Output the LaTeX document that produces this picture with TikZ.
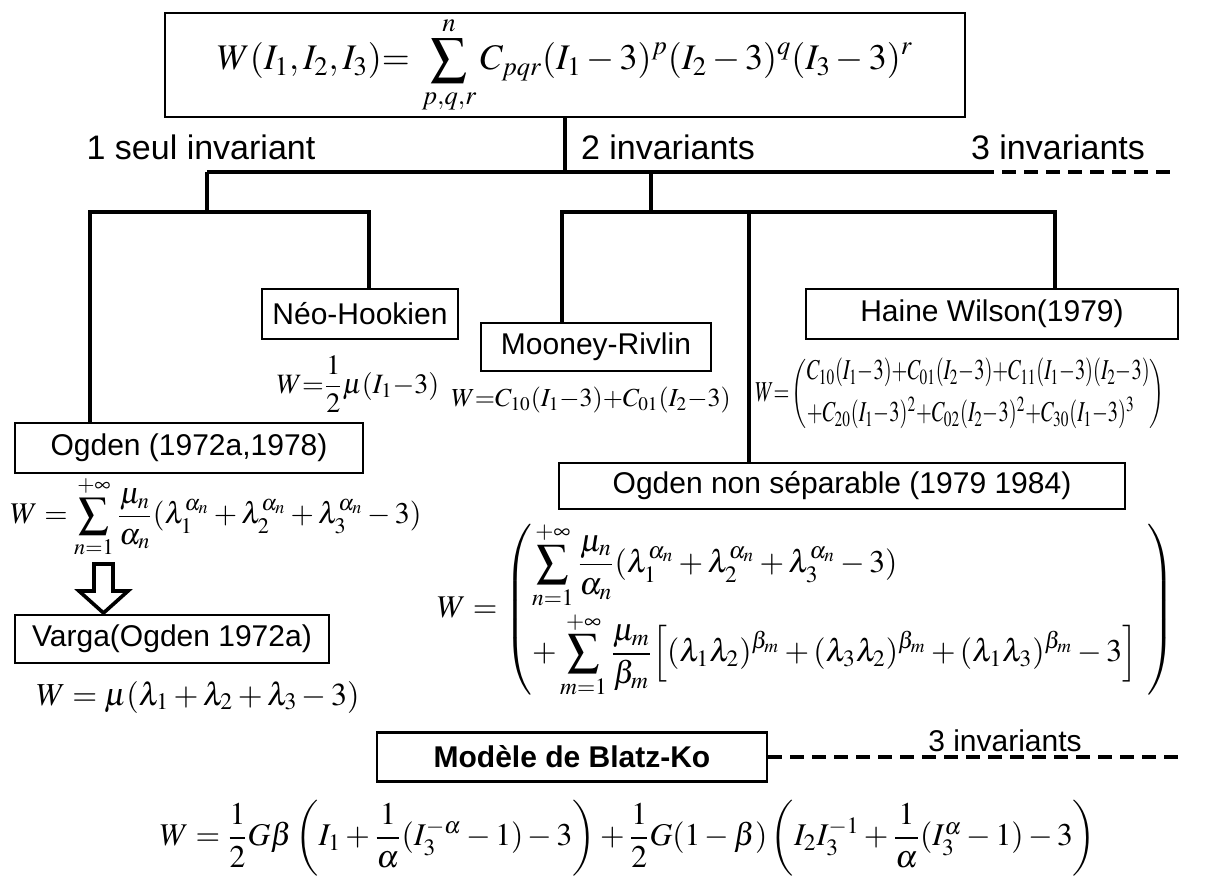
\documentclass[tikz,border=0pt]{standalone}
\usepackage{amsmath,graphicx}
\usepackage{mathptmx}
\usepackage[no-math]{fontspec}
\setmainfont{Liberation Sans}
\usetikzlibrary{positioning}

\begin{document}
\begin{tikzpicture}[
  x=0.5pt,y=-0.5pt,
  box/.style={draw,line width=1.3pt,inner sep=0pt,align=center,font=\fontsize{15}{18}\selectfont},
  lbl/.style={inner sep=0pt,font=\fontsize{17}{20}\selectfont},
  form/.style={inner sep=0pt},
  conn/.style={line width=1.6pt},
  dashconn/.style={line width=1.6pt,dash pattern=on 7pt off 4pt}
]
\useasboundingbox (0,0) rectangle (1206,878);

% general form
\node[box,minimum width=400pt,minimum height=52pt,font=\fontsize{18}{21}\selectfont] (gen) at (565,65)
  {$\displaystyle W(I_1,I_2,I_3){=}\;\sum_{p,q,r}^{n}C_{pqr}(I_1-3)^p(I_2-3)^q(I_3-3)^r$};

\node[lbl] (one) at (201,147) {1 seul invariant};
\node[lbl] (two) at (668,147) {2 invariants};
\node[lbl] (three) at (1058,147) {3 invariants};

% one invariant
\node[box,minimum width=98pt,minimum height=25pt] (neo) at (360,314) {Néo-Hookien};
\node[form,font=\fontsize{14}{16}\selectfont] (neoW) at (358,384) {$W{=}\dfrac{1}{2}\mu(I_1{-}3)$};
\node[box,minimum width=174pt,minimum height=25pt] (ogd) at (189,448) {Ogden (1972a,1978)};
\node[form,font=\fontsize{15}{18}\selectfont] (ogdW) at (216,517)
  {$\displaystyle W=\sum_{n=1}^{+\infty}\frac{\mu_n}{\alpha_n}(\lambda_1^{\alpha_n}+\lambda_2^{\alpha_n}+\lambda_3^{\alpha_n}-3)$};
\node[box,minimum width=157pt,minimum height=24pt] (varga) at (172,639) {Varga(Ogden 1972a)};
\node[form,font=\fontsize{16}{18}\selectfont] (vargaW) at (198,697) {$W=\mu(\lambda_1+\lambda_2+\lambda_3-3)$};
\draw[line width=1.8pt] (94,564) -- (113,564) -- (113,591) -- (128,591) -- (103.5,613)
  -- (79,591) -- (94,591) -- cycle;

% two invariants
\node[box,minimum width=115pt,minimum height=24pt] (moon) at (596,347) {Mooney-Rivlin};
\node[form,font=\fontsize{13}{16}\selectfont] (moonW) at (591,400) {$W{=}C_{10}(I_1{-}3){+}C_{01}(I_2{-}3)$};
\node[box,minimum width=186pt,minimum height=25pt] (haine) at (992,314) {Haine Wilson(1979)};
\node[form,font=\fontsize{12}{14}\selectfont] (haineW) at (960,394)
  {\scalebox{0.85}[1.2]{$W{=}\left(\begin{array}{@{}l@{}}C_{10}(I_1{-}3){+}C_{01}(I_2{-}3){+}C_{11}(I_1{-}3)(I_2{-}3)\\[3pt]
   {+}C_{20}(I_1{-}3)^2{+}C_{02}(I_2{-}3)^2{+}C_{30}(I_1{-}3)^3\end{array}\right)$}};
\node[box,minimum width=283pt,minimum height=23pt] (ogdns) at (842,486) {Ogden non séparable (1979 1984)};
\node[form,font=\fontsize{15.8}{18}\selectfont] (ogdnsW) at (806,610)
  {$W=\left(\begin{array}{@{}l@{\hspace{5pt}}}
   \displaystyle\sum_{n=1}^{+\infty}\frac{\mu_n}{\alpha_n}(\lambda_1^{\alpha_n}+\lambda_2^{\alpha_n}+\lambda_3^{\alpha_n}-3)\\[14pt]
   \displaystyle+\sum_{m=1}^{+\infty}\frac{\mu_m}{\beta_m}\Big[(\lambda_1\lambda_2)^{\beta_m}+(\lambda_3\lambda_2)^{\beta_m}+(\lambda_1\lambda_3)^{\beta_m}-3\Big]
   \end{array}\right)$};

% three invariants
\node[box,minimum width=195pt,minimum height=24.5pt,font=\bfseries\fontsize{15}{18}\selectfont] (blatz) at (572,757) {Modèle de Blatz-Ko};
\node[lbl,font=\fontsize{15}{18}\selectfont,anchor=south] (three2) at (1005,752) {3 invariants};
\coordinate (bend) at (1180,757);
\node[form,font=\fontsize{15.8}{18}\selectfont] (blatzW) at (628,838)
  {$W=\dfrac{1}{2}G\beta\left(I_1+\dfrac{1}{\alpha}(I_3^{-\alpha}-1)-3\right)+\dfrac{1}{2}G(1-\beta)\left(I_2I_3^{-1}+\dfrac{1}{\alpha}(I_3^{\alpha}-1)-3\right)$};

% tree
\coordinate (hL) at (207,172);
\coordinate (hM) at (651,172);
\coordinate (hR) at (980,172);
\coordinate (hE) at (1170,172);
\coordinate (aL) at (90,212);
\coordinate (aR) at (369,212);
\coordinate (bL) at (562,212);
\coordinate (bM) at (749,212);
\coordinate (bR) at (1055,212);

\draw[conn] (gen.south) -- (gen.south |- hL);
\draw[conn] (hL) -- (hR);
\draw[dashconn] (hR) -- (hE);
\draw[conn] (hL) -- (hL |- aL);
\draw[conn] (hM) -- (hM |- bL);
\draw[conn] (aL |- ogd.north) -- (aL) -- (aR) -- (aR |- neo.north);
\draw[conn] (bL |- moon.north) -- (bL) -- (bR) -- (bR |- haine.north);
\draw[conn] (bM) -- (bM |- ogdns.north);
\draw[dashconn] (blatz.east) -- (bend);
\end{tikzpicture}
\end{document}
